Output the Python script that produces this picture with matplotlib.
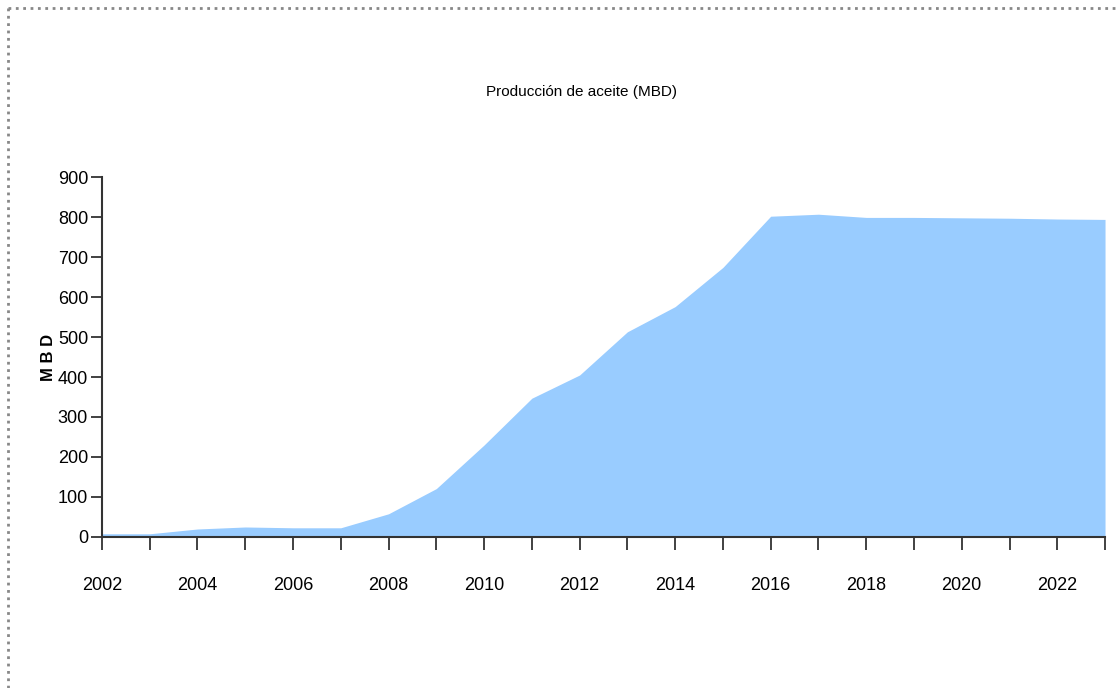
import matplotlib.pyplot as plt
from matplotlib.lines import Line2D

# Producción de aceite (MBD)
years = list(range(2002, 2024))
produccion = [8, 8, 20, 25, 23, 23, 58, 121, 230, 347, 405, 513, 576, 674,
              802, 807, 799, 799, 798, 797, 795, 794]
x_ticks = list(range(2002, 2023, 2))
y_ticks = list(range(0, 901, 100))

font = ['Liberation Sans', 'DejaVu Sans']

fig = plt.figure(figsize=(11.18, 6.88), dpi=100)
ax = fig.add_axes([0.0912, 0.2195, 0.8972, 0.5232])

ax.fill_between(years, produccion, 0, color='#99CCFF', linewidth=0)

ax.set_xlim(2002, 2023)
ax.set_ylim(0, 900)
ax.set_xticks(range(2002, 2024))
ax.set_xticklabels([str(y) if y in x_ticks else '' for y in range(2002, 2024)])
ax.set_yticks(y_ticks)

for s in ['top', 'right']:
    ax.spines[s].set_visible(False)
for s in ['left', 'bottom']:
    ax.spines[s].set_color('#333333')
    ax.spines[s].set_linewidth(1.5)

ax.tick_params(axis='x', direction='out', length=9, width=1.3, color='#333333', pad=20)
ax.tick_params(axis='y', direction='out', length=8, width=1.3, color='#333333', pad=2)
for lbl in ax.get_xticklabels() + ax.get_yticklabels():
    lbl.set_family(font)
    lbl.set_fontsize(13)

ax.set_ylabel('M B D', fontsize=12, fontweight='bold', family=font)
ax.yaxis.set_label_coords(-0.046, 0.5)

fig.text(0.52, 0.866, 'Producción de aceite (MBD)', ha='center', va='center',
         fontsize=11, family=font)

# dotted frame on the left and top of the picture
fig.add_artist(Line2D([0.007, 0.007], [0, 0.988], transform=fig.transFigure,
                      color='#888888', linestyle=':', linewidth=2))
fig.add_artist(Line2D([0.007, 1.0], [0.988, 0.988], transform=fig.transFigure,
                      color='#888888', linestyle=':', linewidth=2))

fig.savefig('out.png', dpi=100)
